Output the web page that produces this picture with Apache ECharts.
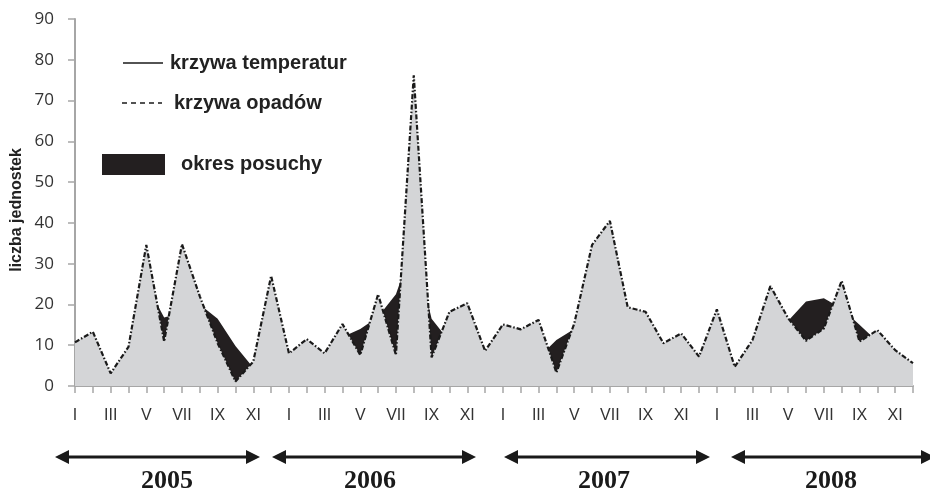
<!DOCTYPE html>
<html>
<head>
<meta charset="utf-8">
<script src="https://cdn.jsdelivr.net/npm/echarts@6/dist/echarts.min.js"></script>
<style>
  html, body { margin: 0; padding: 0; background: #fff; }
  #chart { width: 930px; height: 492px; }
</style>
</head>
<body>
<div id="chart"></div>
<script>
// miesiące i lata
const months = ['I', 'II', 'III', 'IV', 'V', 'VI', 'VII', 'VIII', 'IX', 'X', 'XI', 'XII'];
const years = ['2005', '2006', '2007', '2008'];
const categories = years.flatMap(() => months);

// krzywa opadów
const opady = [
  10.7, 13.3, 3.1, 9.6, 34.6, 10.9, 34.8, 22, 10.5, 1.1, 6, 27,
  8.0, 11.5, 8.0, 15.2, 7.6, 22.5, 7.6, 76.2, 7.0, 18.2, 20.3, 8.6,
  15.1, 13.9, 16.2, 3.3, 15.3, 34.6, 40.5, 19.3, 18.2, 10.5, 12.9, 7.2,
  18.8, 4.7, 11.3, 24.5, 16.6, 11.1, 14.1, 25.8, 10.9, 13.7, 8.8, 5.6
];

// krzywa temperatur (widoczna tylko tam, gdzie jest powyżej opadów)
const temperatura = [
  9, 12, 2, 8, 25, 16.8, 18, 20, 16.5, 9.8, 4.5, 20,
  7, 10, 7, 12, 14, 17, 22.5, 35, 16.5, 11, 18, 7.5,
  14, 13, 7, 11.3, 14, 30, 38, 18, 17, 9.5, 12, 6,
  17, 4, 10, 23, 16, 20.7, 21.5, 19, 15, 10.9, 8, 5
];

// y axis ticks
const yMin = 0, yMax = 90, yStep = 10;

const chart = echarts.init(document.getElementById('chart'));

// strzałki lat pod osią
const yearSpans = [[55, 260], [272, 476], [504, 710], [731, 935]];
const yearCenters = [167, 370, 604, 831];
const arrowY = 457;

const graphics = [];
yearSpans.forEach((s, i) => {
  graphics.push({
    type: 'line',
    shape: { x1: s[0] + 8, y1: arrowY, x2: s[1] - 8, y2: arrowY },
    style: { stroke: '#1a1a1a', lineWidth: 3 }
  });
  graphics.push({
    type: 'polygon',
    shape: { points: [[s[0], arrowY], [s[0] + 14, arrowY - 7], [s[0] + 14, arrowY + 7]] },
    style: { fill: '#1a1a1a' }
  });
  graphics.push({
    type: 'polygon',
    shape: { points: [[s[1], arrowY], [s[1] - 14, arrowY - 7], [s[1] - 14, arrowY + 7]] },
    style: { fill: '#1a1a1a' }
  });
  graphics.push({
    type: 'text',
    style: {
      text: years[i], x: yearCenters[i], y: 481,
      font: 'bold 26px "Liberation Serif", "Times New Roman", serif',
      fill: '#1a1a1a', textAlign: 'center', textVerticalAlign: 'middle'
    }
  });
});

// legenda
const legendFont = 'bold 20px "Liberation Sans", Arial, sans-serif';
graphics.push(
  { type: 'line', shape: { x1: 123, y1: 63, x2: 163, y2: 63 }, style: { stroke: '#1a1a1a', lineWidth: 1.5 } },
  { type: 'text', style: { text: 'krzywa temperatur', x: 170, y: 63, font: legendFont, fill: '#222', textVerticalAlign: 'middle' } },
  { type: 'line', shape: { x1: 122, y1: 103, x2: 162, y2: 103 }, style: { stroke: '#1a1a1a', lineWidth: 1.5, lineDash: [5, 4] } },
  { type: 'text', style: { text: 'krzywa opadów', x: 174, y: 103, font: legendFont, fill: '#222', textVerticalAlign: 'middle' } },
  { type: 'rect', shape: { x: 102, y: 154, width: 63, height: 21 }, style: { fill: '#231f20' } },
  { type: 'text', style: { text: 'okres posuchy', x: 181, y: 164, font: legendFont, fill: '#222', textVerticalAlign: 'middle' } },
  {
    type: 'text', x: 17, y: 210, rotation: Math.PI / 2,
    style: {
      text: 'liczba jednostek', x: 0, y: 0,
      font: 'bold 16px "Liberation Sans", Arial, sans-serif',
      fill: '#222', textAlign: 'center', textVerticalAlign: 'middle'
    }
  }
);

chart.setOption({
  animation: false,
  backgroundColor: '#fff',
  grid: { left: 75, right: 17, top: 19, bottom: 106 },
  xAxis: {
    type: 'category',
    data: categories,
    boundaryGap: false,
    axisLine: { lineStyle: { color: '#a6a6a6', width: 2 } },
    axisTick: { show: true, interval: 0, length: 7, lineStyle: { color: '#a6a6a6', width: 1.5 } },
    axisLabel: {
      interval: 1,
      margin: 22,
      color: '#333',
      fontSize: 16,
      fontFamily: '"Liberation Sans Narrow", "Arial Narrow", sans-serif'
    },
    splitLine: { show: false }
  },
  yAxis: {
    type: 'value',
    min: yMin,
    max: yMax,
    interval: yStep,
    axisLine: { show: true, lineStyle: { color: '#a6a6a6', width: 2 } },
    axisTick: { show: true, length: 7, lineStyle: { color: '#a6a6a6', width: 1.5 } },
    axisLabel: { color: '#333', fontSize: 17, margin: 21, fontFamily: '"Open Sans", sans-serif' },
    splitLine: { show: false }
  },
  series: [
    {
      name: 'krzywa temperatur',
      type: 'line',
      data: temperatura,
      symbol: 'none',
      z: 2,
      lineStyle: { width: 0, color: '#231f20' },
      areaStyle: { color: '#231f20', opacity: 1 }
    },
    {
      name: 'krzywa opadów',
      type: 'line',
      data: opady,
      symbol: 'none',
      z: 3,
      lineStyle: { width: 2.2, color: '#1a1a1a', type: [5, 2, 1.5, 2] },
      areaStyle: { color: '#d4d5d7', opacity: 1 }
    }
  ],
  graphic: graphics
});
</script>
</body>
</html>
